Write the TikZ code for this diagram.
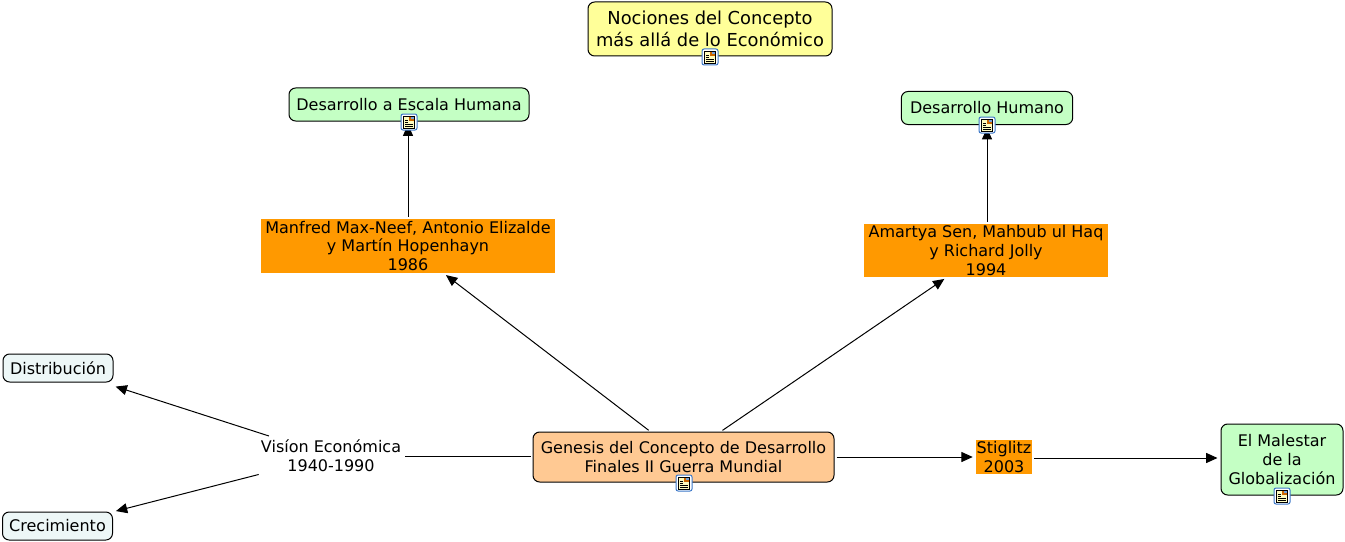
\documentclass[tikz,border=0pt]{standalone}
\usepackage{fontspec}
\setmainfont{DejaVu Sans}
\usetikzlibrary{arrows.meta}
\definecolor{titlefill}{HTML}{FFFF99}
\definecolor{greenfill}{HTML}{C4FFC4}
\definecolor{peachfill}{HTML}{FFC993}
\definecolor{orangefill}{HTML}{FF9900}
\definecolor{palefill}{HTML}{EDF7F7}
\definecolor{iconblue}{HTML}{3C78C8}
\tikzset{
  concept/.style={draw=black,line width=0.75pt,rounded corners=5pt,align=center,inner sep=0pt,
    font=\fontsize{12}{14.2}\selectfont},
  source/.style={fill=orangefill,align=center,inner sep=0pt,font=\fontsize{12}{14.2}\selectfont},
  iconbox/.style={draw=iconblue,fill=white,line width=0.75pt,rounded corners=1.5pt,
    minimum width=12pt,minimum height=12pt,inner sep=0pt},
  link/.style={line width=0.75pt,-{Triangle[length=8.5pt,width=7.5pt]},shorten >=2.25pt,shorten <=1.5pt},
  plainlink/.style={line width=0.75pt,shorten >=1.5pt,shorten <=1.5pt}
}
\newcommand{\noteicon}[2]{%
  \node[iconbox] (#1) at (#2) {};
  \fill[yellow!25] ([shift={(-4pt,-4.5pt)}]#1.center) rectangle ([shift={(4pt,4.5pt)}]#1.center);
  \draw[line width=0.5pt] ([shift={(-4pt,-4.5pt)}]#1.center) rectangle ([shift={(4pt,4.5pt)}]#1.center);
  \fill[orange!80!black] ([shift={(0pt,0.5pt)}]#1.center) rectangle ([shift={(3.5pt,4pt)}]#1.center);
  \fill[iconblue!70] ([shift={(1.5pt,2pt)}]#1.center) rectangle ([shift={(3.5pt,4pt)}]#1.center);
  \foreach \yy in {-3,-1.5,0,1.5}
    \draw[line width=0.5pt] ([shift={(-3pt,\yy pt)}]#1.center) -- ([shift={(\ifdim\yy pt<0pt 3\else -0.5\fi pt,\yy pt)}]#1.center);
}
\begin{document}
\begin{tikzpicture}[x=0.75pt,y=-0.75pt]
\useasboundingbox (0,0) rectangle (1345,542);
% concepts
\node [concept,fill=titlefill,minimum width=183pt,minimum height=40.5pt,font=\fontsize{13.4}{16.5}\selectfont] (title) at (710,29) {Nociones del Concepto\\más allá de lo Económico};
\node [concept,fill=greenfill,minimum width=180pt,minimum height=24.75pt] (escala) at (409,104.5) {Desarrollo a Escala Humana};
\node [concept,fill=greenfill,minimum width=128.5pt,minimum height=24.75pt] (humano) at (987,108) {Desarrollo Humano};
\node [concept,fill=peachfill,minimum width=225.75pt,minimum height=37.5pt] (genesis) at (683.5,457) {Genesis del Concepto de Desarrollo\\Finales II Guerra Mundial};
\node [concept,fill=greenfill,minimum width=91.5pt,minimum height=53.25pt] (malestar) at (1282,459.5) {El Malestar~\\de la\\Globalización};
\node [concept,fill=palefill,minimum width=82.5pt,minimum height=21pt] (distribucion) at (58,368) {Distribución};
\node [concept,fill=palefill,minimum width=82.5pt,minimum height=21pt] (crecimiento) at (57.5,526) {Crecimiento};
% sources
\node [source,minimum width=220.5pt,minimum height=40.5pt] (manfred) at (408,246) {Manfred Max-Neef, Antonio Elizalde~\\y Martín Hopenhayn\\1986};
\node [source,minimum width=183pt,minimum height=39.75pt] (sen) at (986,250.5) {Amartya Sen, Mahbub ul Haq~\\y Richard Jolly\\1994};
\node [source,minimum width=42pt,minimum height=25.5pt] (stiglitz) at (1004,457) {Stiglitz\\2003};
\node [align=center,inner sep=0pt,minimum width=108pt,minimum height=31.5pt,font=\fontsize{12}{14.2}\selectfont] (vision) at (331,456) {Visíon Económica\\1940-1990};
% connectors
\draw [link] (manfred.north) -- (manfred.north |- escala.south);
\draw [link] (humano |- sen.north) -- (humano);
\draw [link] (genesis) -- (manfred);
\draw [link] (genesis) -- (sen);
\draw [link] (genesis.east) -- (genesis.east -| stiglitz.west);
\draw [link] (stiglitz.east) ++(0,1) -- (malestar.west |- 1035,458);
\draw [plainlink] (vision.east) -- (vision.east -| genesis.west);
\draw [link,shorten >=10pt,shorten <=-3pt] (vision) -- (distribucion);
\draw [link,shorten <=0pt] (vision) -- (crecimiento);
% icons
\noteicon{icontitle}{710,57}
\noteicon{iconescala}{409,122}
\noteicon{iconhumano}{987,125}
\noteicon{icongenesis}{684,483}
\noteicon{iconmalestar}{1282,496}
\end{tikzpicture}
\end{document}
